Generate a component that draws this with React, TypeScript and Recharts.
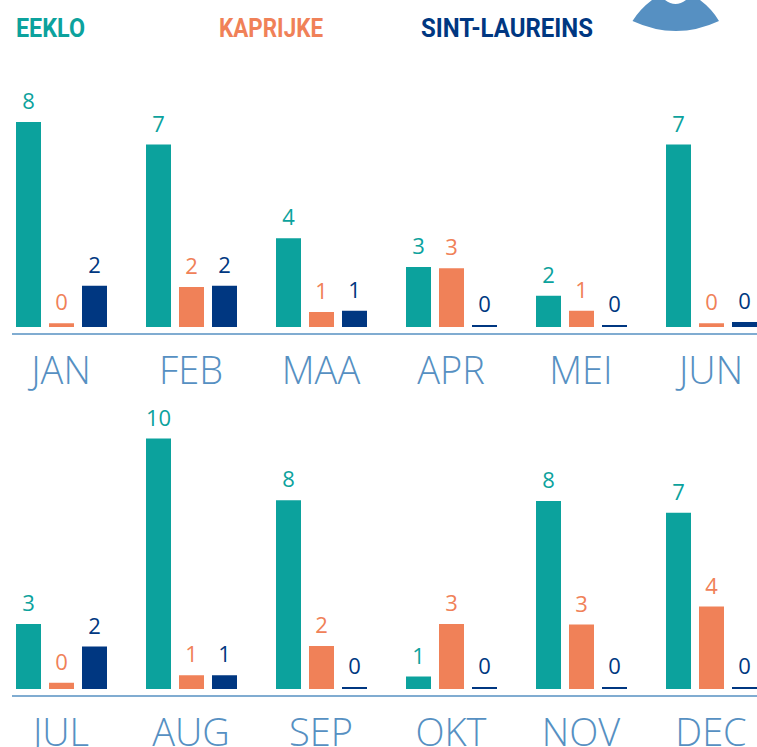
import { BarChart, Bar, XAxis, YAxis, LabelList } from 'recharts';

const monthsTop = ['JAN', 'FEB', 'MAA', 'APR', 'MEI', 'JUN'];
const monthsBottom = ['JUL', 'AUG', 'SEP', 'OKT', 'NOV', 'DEC'];

// bar lengths (they do not follow the printed numbers exactly)
const eekloTop = [8.2, 7.3, 3.55, 2.4, 1.25, 7.3];
const kaprijkeTop = [0.15, 1.6, 0.6, 2.35, 0.65, 0.15];
const laureinsTop = [1.65, 1.65, 0.65, 0.08, 0.08, 0.2];
const eekloBottom = [2.6, 10.02, 7.55, 0.5, 7.52, 7.05];
const kaprijkeBottom = [0.25, 0.55, 1.72, 2.6, 2.58, 3.3];
const laureinsBottom = [1.7, 0.55, 0.08, 0.08, 0.08, 0.08];

// printed numbers
const eekloTopLabels = [8, 7, 4, 3, 2, 7];
const kaprijkeTopLabels = [0, 2, 1, 3, 1, 0];
const laureinsTopLabels = [2, 2, 1, 0, 0, 0];
const eekloBottomLabels = [3, 10, 8, 1, 8, 7];
const kaprijkeBottomLabels = [0, 1, 2, 3, 3, 4];
const laureinsBottomLabels = [2, 1, 0, 0, 0, 0];

const TEAL = '#0ca29d';
const ORANGE = '#f08158';
const NAVY = '#003781';
const BLUE = '#5690c2';
const FONT = '"Open Sans", sans-serif';

function buildRows(
  months: string[],
  e: number[],
  k: number[],
  s: number[],
  eL: number[],
  kL: number[],
  sL: number[],
) {
  return months.map((month, i) => ({
    month,
    eeklo: e[i],
    kaprijke: k[i],
    laureins: s[i],
    eekloLabel: eL[i],
    kaprijkeLabel: kL[i],
    laureinsLabel: sL[i],
  }));
}

const topRows = buildRows(monthsTop, eekloTop, kaprijkeTop, laureinsTop, eekloTopLabels, kaprijkeTopLabels, laureinsTopLabels);
const bottomRows = buildRows(monthsBottom, eekloBottom, kaprijkeBottom, laureinsBottom, eekloBottomLabels, kaprijkeBottomLabels, laureinsBottomLabels);

const series = [
  { key: 'eeklo', label: 'eekloLabel', color: TEAL },
  { key: 'kaprijke', label: 'kaprijkeLabel', color: ORANGE },
  { key: 'laureins', label: 'laureinsLabel', color: NAVY },
];

type RowProps = {
  data: ReturnType<typeof buildRows>;
  top: number;
  height: number;
  marginTop: number;
  plotHeight: number;
  domainMax: number;
};

function Row({ data, top, height, marginTop, plotHeight, domainMax }: RowProps) {
  return (
    <div style={{ position: 'absolute', left: 0, top }}>
      <BarChart
        width={757}
        height={height}
        data={data}
        margin={{ top: marginTop, right: 0, bottom: 0, left: 12 }}
        barSize={25}
        barGap={8}
      >
        <XAxis
          dataKey="month"
          interval={0}
          height={height - marginTop - plotHeight}
          padding={{ left: -16, right: -19 }}
          axisLine={{ stroke: BLUE, strokeWidth: 1.5 }}
          tickLine={false}
          tickMargin={17}
          tick={{ fill: BLUE, fontSize: 38, fontFamily: FONT, fontWeight: 300 }}
        />
        <YAxis hide domain={[-0.28, domainMax]} />
        {series.map((s) => (
          <Bar key={s.key} dataKey={s.key} fill={s.color} isAnimationActive={false}>
            <LabelList
              dataKey={s.label}
              position="top"
              offset={13}
              fill={s.color}
              fontSize={22}
              fontFamily={FONT}
              fontWeight={400}
            />
          </Bar>
        ))}
      </BarChart>
    </div>
  );
}

const legendItems = [
  { name: 'EEKLO', x: 16, length: 69, color: TEAL },
  { name: 'KAPRIJKE', x: 219, length: 104, color: ORANGE },
  { name: 'SINT-LAUREINS', x: 421, length: 172, color: NAVY },
];

export default function App() {
  return (
    <div style={{ position: 'absolute', left: 0, top: 0, width: 757, height: 747, overflow: 'hidden', background: '#fff' }}>
      <svg style={{ position: 'absolute', left: 0, top: 0 }} width={757} height={50}>
        {legendItems.map((item) => (
          <text
            key={item.name}
            x={item.x}
            y={37}
            fill={item.color}
            fontFamily="Roboto, sans-serif"
            fontWeight={700}
            fontSize={25}
            textLength={item.length}
            lengthAdjust="spacingAndGlyphs"
          >
            {item.name}
          </text>
        ))}
        <path
          d="M652 0 Q640 9 632.5 21 Q676 41 719 21 Q712 9 700 0 L686 0 Q675.5 8 665 0 Z"
          fill={BLUE}
        />
      </svg>
      <Row data={topRows} top={0} height={400} marginTop={7} plotHeight={327} domainMax={12.8} />
      <Row data={bottomRows} top={400} height={347} marginTop={0} plotHeight={296} domainMax={11.56} />
    </div>
  );
}
